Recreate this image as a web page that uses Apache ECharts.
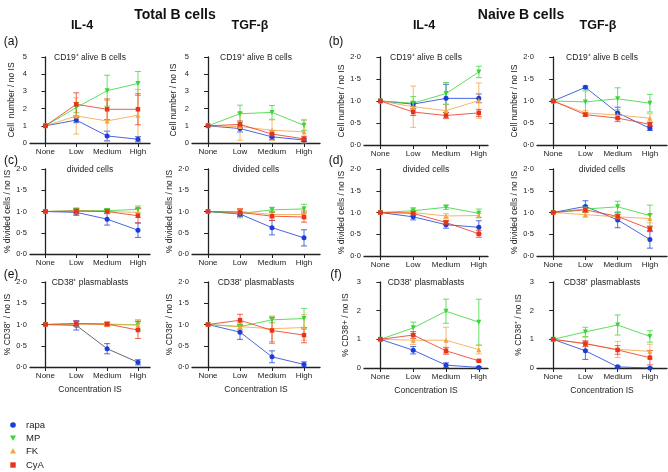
<!DOCTYPE html>
<html><head><meta charset="utf-8">
<script src="https://cdn.jsdelivr.net/npm/echarts@6/dist/echarts.min.js"></script>
<style>html,body{margin:0;padding:0;background:#fff}#c{width:668px;height:472px}</style>
</head><body><div id="c"></div>
<script>
const categories = ['None','Low','Medium','High'];
const drugs = ['rapa','MP','FK','CyA'];

// (a) Total B cells, CD19+ alive B cells  [rapa, MP, FK, CyA]
const totIL4_cd19_mean = [[1,1.33,0.41,0.22],[1,2.06,3.04,3.46],[1,1.57,1.28,1.62],[1,2.25,1.96,1.96]];
const totIL4_cd19_err  = [[0,0.15,0.28,0.15],[0,0.3,0.9,0.7],[0,1.05,1.2,1.5],[0,0.67,0.6,0.9]];
const totTGF_cd19_mean = [[1,0.84,0.36,0.17],[1,1.7,1.78,1.03],[1,0.96,0.74,0.65],[1,1.08,0.52,0.24]];
const totTGF_cd19_err  = [[0,0.2,0.15,0.1],[0,0.5,0.4,0.3],[0,0.8,0.6,0.7],[0,0.2,0.2,0.15]];
// (b) Naive B cells, CD19+ alive B cells
const naiIL4_cd19_mean = [[1,0.93,1.06,1.06],[1,0.95,1.17,1.66],[1,0.87,0.78,1.01],[1,0.75,0.67,0.73]];
const naiIL4_cd19_err  = [[0,0.05,0.32,0.1],[0,0.15,0.25,0.13],[0,0.47,0.15,0.4],[0,0.08,0.07,0.08]];
const naiTGF_cd19_mean = [[1,1.31,0.73,0.38],[1,0.98,1.05,0.95],[1,0.73,0.68,0.61],[1,0.69,0.61,0.47]];
const naiTGF_cd19_err  = [[0,0.03,0.13,0.05],[0,0.25,0.25,0.2],[0,0.05,0.06,0.1],[0,0.04,0.08,0.05]];
// (c) Total B cells, divided cells
const totIL4_div_mean = [[1,0.98,0.82,0.56],[1,1.02,1.02,1.05],[1,1.01,1.0,0.98],[1,1.01,1.0,0.9]];
const totIL4_div_err  = [[0,0.07,0.14,0.17],[0,0.05,0.05,0.08],[0,0.08,0.05,0.12],[0,0.06,0.05,0.17]];
const totTGF_div_mean = [[1,0.94,0.62,0.38],[1,0.95,1.04,1.06],[1,1.0,0.93,0.93],[1,0.98,0.89,0.87]];
const totTGF_div_err  = [[0,0.06,0.17,0.19],[0,0.1,0.06,0.11],[0,0.07,0.08,0.1],[0,0.08,0.1,0.12]];
// (d) Naive B cells, divided cells
const naiIL4_div_mean = [[1,0.9,0.72,0.66],[1,1.04,1.12,0.98],[1,1.0,0.92,0.93],[1,0.98,0.77,0.51]];
const naiIL4_div_err  = [[0,0.07,0.08,0.15],[0,0.07,0.05,0.1],[0,0.05,0.05,0.05],[0,0.05,0.05,0.08]];
const naiTGF_div_mean = [[1,1.14,0.83,0.38],[1,1.08,1.13,0.93],[1,0.95,0.9,0.86],[1,1.06,0.91,0.62]];
const naiTGF_div_err  = [[0,0.13,0.18,0.2],[0,0.08,0.13,0.24],[0,0.06,0.06,0.1],[0,0.05,0.05,0.06]];
// (e) Total B cells, CD38+ plasmablasts
const totIL4_cd38_mean = [[1,0.98,0.43,0.11],[1,1.02,1.01,0.99],[1,1.01,1.0,0.99],[1,1.02,1.01,0.87]];
const totIL4_cd38_err  = [[0,0.11,0.12,0.06],[0,0.05,0.04,0.12],[0,0.06,0.05,0.1],[0,0.06,0.04,0.2]];
const totTGF_cd38_mean = [[1,0.82,0.24,0.06],[1,0.95,1.11,1.14],[1,0.95,0.9,0.93],[1,1.1,0.86,0.75]];
const totTGF_cd38_err  = [[0,0.17,0.14,0.06],[0,0.06,0.07,0.24],[0,0.1,0.3,0.3],[0,0.14,0.3,0.18]];
// (f) Naive B cells, CD38+ plasmablasts
const naiIL4_cd38_mean = [[1,0.62,0.1,0.02],[1,1.4,1.98,1.6],[1,0.97,0.97,0.64],[1,1.15,0.6,0.25]];
const naiIL4_cd38_err  = [[0,0.13,0.08,0.03],[0,0.2,0.42,0.8],[0,0.15,0.45,0.15],[0,0.12,0.12,0.03]];
const naiTGF_cd38_mean = [[1,0.6,0.04,0.0],[1,1.26,1.5,1.1],[1,0.85,0.65,0.58],[1,0.85,0.63,0.36]];
const naiTGF_cd38_err  = [[0,0.3,0.03,0.02],[0,0.16,0.35,0.2],[0,0.22,0.28,0.25],[0,0.1,0.15,0.25]];

const colors = ['#1c3ed8','#36d636','#f4a43c','#e8341c'];
const symbols = ['circle','path://M0,0 L10,0 L5,9 Z','triangle','rect'];

const cols = [
  {left:30, width:120, xmax:3.39},
  {left:192, width:128, xmax:3.5},
  {left:364, width:124, xmax:3.28},
  {left:537, width:130, xmax:3.53}
];
const rows = [
  {top:57, hL:86, hR:88},
  {top:169, hL:85, hR:87},
  {top:282, hL:85, hR:86}
];

const panels = [
  {m:totIL4_cd19_mean, e:totIL4_cd19_err, c:0, r:0, ymax:5, yint:1, dec:0, yname:'Cell  number / no IS', title:'CD19\u207A alive B cells'},
  {m:totTGF_cd19_mean, e:totTGF_cd19_err, c:1, r:0, ymax:5, yint:1, dec:0, yname:'Cell number / no IS', title:'CD19\u207A alive B cells'},
  {m:naiIL4_cd19_mean, e:naiIL4_cd19_err, c:2, r:0, ymax:2, yint:0.5, dec:1, yname:'Cell number / no IS', title:'CD19\u207A alive B cells'},
  {m:naiTGF_cd19_mean, e:naiTGF_cd19_err, c:3, r:0, ymax:2, yint:0.5, dec:1, yname:'Cell number / no IS', title:'CD19\u207A alive B cells'},
  {m:totIL4_div_mean, e:totIL4_div_err, c:0, r:1, ymax:2, yint:0.5, dec:1, yname:'% divided cells / no IS', title:'divided cells'},
  {m:totTGF_div_mean, e:totTGF_div_err, c:1, r:1, ymax:2, yint:0.5, dec:1, yname:'% divided cells / no IS', title:'divided cells'},
  {m:naiIL4_div_mean, e:naiIL4_div_err, c:2, r:1, ymax:2, yint:0.5, dec:1, yname:'% divided cells / no IS', title:'divided cells'},
  {m:naiTGF_div_mean, e:naiTGF_div_err, c:3, r:1, ymax:2, yint:0.5, dec:1, yname:'% divided cells / no IS', title:'divided cells'},
  {m:totIL4_cd38_mean, e:totIL4_cd38_err, c:0, r:2, ymax:2, yint:0.5, dec:1, yname:'% CD38\u207A / no IS', title:'CD38\u207A plasmablasts', darkRapa:true},
  {m:totTGF_cd38_mean, e:totTGF_cd38_err, c:1, r:2, ymax:2, yint:0.5, dec:1, yname:'% CD38\u207A / no IS', title:'CD38\u207A plasmablasts'},
  {m:naiIL4_cd38_mean, e:naiIL4_cd38_err, c:2, r:2, ymax:3, yint:1, dec:0, yname:'% CD38+ / no IS', title:'CD38\u207A plasmablasts'},
  {m:naiTGF_cd38_mean, e:naiTGF_cd38_err, c:3, r:2, ymax:3, yint:1, dec:0, yname:'% CD38\u207A / no IS', title:'CD38\u207A plasmablasts'}
];

const FONT = 'Liberation Sans, Arial, Helvetica, sans-serif';
const grid = [], xAxis = [], yAxis = [], series = [], graphic = [];

function fmt(v, dec){ return dec ? v.toFixed(1).replace('.', '\u00B7') : String(v); }

panels.forEach((p, i) => {
  const col = cols[p.c], row = rows[p.r];
  const h = p.c < 2 ? row.hL : row.hR;
  grid.push({left: col.left, top: row.top, width: col.width, height: h, containLabel:false});
  xAxis.push({
    type:'value', gridIndex:i, min:-0.5, max:col.xmax,
    axisLine:{onZero:false, lineStyle:{color:'#222', width:1.3}},
    axisTick:{customValues:[0,1,2,3], length:4, lineStyle:{color:'#222'}},
    axisLabel:{customValues:[0,1,2,3], formatter:v=>categories[Math.round(v)], fontSize:8, color:'#222', margin:5, fontFamily:FONT},
    splitLine:{show:false},
    name: p.r === 2 ? 'Concentration IS' : '', nameLocation:'middle', nameGap:18,
    nameTextStyle:{fontSize:8.5, color:'#222', fontFamily:FONT}
  });
  yAxis.push({
    type:'value', gridIndex:i, min:0, max:p.ymax, interval:p.yint,
    axisLine:{show:true, lineStyle:{color:'#222', width:1.3}},
    axisTick:{show:true, length:4, lineStyle:{color:'#222'}},
    axisLabel:{formatter:v=>fmt(v,p.dec), fontSize:7.5, color:'#222', margin:3, fontFamily:FONT},
    splitLine:{show:false},
    name:p.yname, nameLocation:'middle', nameGap: p.dec ? 17 : 14,
    nameTextStyle:{fontSize:8.5, color:'#222', fontFamily:FONT}
  });
  graphic.push({type:'text', x: col.left + col.width/2, y: row.top + 1,
    style:{text:p.title, font:'8.5px '+FONT, fill:'#222', textAlign:'center', textVerticalAlign:'middle'}});
  drugs.forEach((d, k) => {
    const errData = [];
    p.m[k].forEach((v, j) => { if (p.e[k][j] > 0) errData.push([j, v - p.e[k][j], v + p.e[k][j]]); });
    const c = colors[k];
    series.push({
      type:'custom', name:d+' error', xAxisIndex:i, yAxisIndex:i, silent:true, z:2,
      data: errData, encode:{x:0, y:[1,2]},
      renderItem:(params, api) => {
        const x = api.value(0);
        const lo = api.coord([x, Math.max(0, api.value(1))]);
        const hi = api.coord([x, api.value(2)]);
        const w = 3;
        const st = {stroke:c, lineWidth:1, opacity:0.75};
        return {type:'group', children:[
          {type:'line', shape:{x1:lo[0], y1:lo[1], x2:hi[0], y2:hi[1]}, style:st},
          {type:'line', shape:{x1:hi[0]-w, y1:hi[1], x2:hi[0]+w, y2:hi[1]}, style:st},
          {type:'line', shape:{x1:lo[0]-w, y1:lo[1], x2:lo[0]+w, y2:lo[1]}, style:st}
        ]};
      }
    });
  });
  drugs.forEach((d, k) => {
    const lineColor = (p.darkRapa && k === 0) ? '#444' : colors[k];
    series.push({
      type:'line', name:d, xAxisIndex:i, yAxisIndex:i, z:3,
      data: p.m[k].map((v, j) => [j, v]),
      symbol: symbols[k], symbolSize: k === 3 ? 4.5 : 5,
      itemStyle:{color:colors[k]},
      lineStyle:{color:lineColor, width:1, opacity:0.8},
      animation:false
    });
  });
});

const headers = [
  {t:'Total B cells', x:175, y:15, s:14, b:true},
  {t:'Naive B cells', x:521, y:15, s:14, b:true},
  {t:'IL-4', x:82, y:26, s:12.5, b:true},
  {t:'TGF-\u03B2', x:250, y:26, s:12.5, b:true},
  {t:'IL-4', x:424, y:26, s:12.5, b:true},
  {t:'TGF-\u03B2', x:598, y:26, s:12.5, b:true},
  {t:'(a)', x:11, y:42, s:12, b:false},
  {t:'(b)', x:336, y:42, s:12, b:false},
  {t:'(c)', x:11, y:161, s:12, b:false},
  {t:'(d)', x:336, y:161, s:12, b:false},
  {t:'(e)', x:11, y:275, s:12, b:false},
  {t:'(f)', x:336, y:275, s:12, b:false}
];
headers.forEach(h => graphic.push({type:'text', x:h.x, y:h.y,
  style:{text:h.t, font:(h.b?'bold ':'')+h.s+'px '+FONT, fill:'#111', textAlign:'center', textVerticalAlign:'middle'}}));

const legendY = [425, 438, 451, 465];
drugs.forEach((d, k) => {
  const y = legendY[k], x = 13, c = colors[k];
  let shape;
  if (k === 0) shape = {type:'circle', shape:{cx:x, cy:y, r:2.8}, style:{fill:c}};
  else if (k === 1) shape = {type:'polygon', shape:{points:[[x-3,y-2.5],[x+3,y-2.5],[x,y+2.8]]}, style:{fill:c}};
  else if (k === 2) shape = {type:'polygon', shape:{points:[[x-3,y+2.5],[x+3,y+2.5],[x,y-2.8]]}, style:{fill:c}};
  else shape = {type:'rect', shape:{x:x-2.7, y:y-2.7, width:5.4, height:5.4}, style:{fill:c}};
  graphic.push(shape);
  graphic.push({type:'text', x:26, y:y, style:{text:d, font:'9.5px '+FONT, fill:'#222', textVerticalAlign:'middle'}});
});

const chart = echarts.init(document.getElementById('c'), null, {renderer:'canvas'});
chart.setOption({animation:false, backgroundColor:'#fff', grid, xAxis, yAxis, series, graphic});
</script>
</body></html>
